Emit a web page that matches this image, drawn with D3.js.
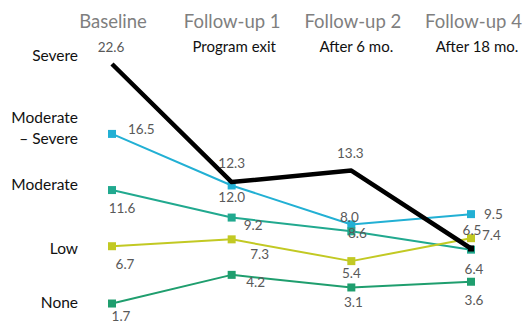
<!DOCTYPE html>
<html>
<head>
<meta charset="utf-8">
<script src="https://cdn.jsdelivr.net/npm/d3@7"></script>
<style>
  html, body { margin: 0; padding: 0; background: #fff; }
  svg { display: block; }
</style>
</head>
<body>
<svg id="chart" width="524" height="324"></svg>
<script>
// Survey waves (columns) and their subtitles
const waves = ["Baseline", "Follow-up 1", "Follow-up 2", "Follow-up 4"];
const waveNotes = ["", "Program exit", "After 6 mo.", "After 18 mo."];

// Severity levels shown down the left side
const levels = ["Severe", "Moderate\n– Severe", "Moderate", "Low", "None"];

// Percentage in each severity level at each wave
const severe         = [22.6, 12.3, 13.3, 6.5];
const moderateSevere = [16.5, 12.0, 8.6, 9.5];
const moderate       = [11.6, 9.2, 8.0, 6.4];
const low            = [6.7, 7.3, 5.4, 7.4];
const none           = [1.7, 4.2, 3.1, 3.6];

// Label placement per point: [dx, dy, anchor]
const series = [
  { name: "Moderate – Severe", values: moderateSevere, color: "#22b0d4", width: 2, marker: true,
    labelPos: [[16, 0, "start"], [0, 17, "middle"], [6, 14, "middle"], [13, 5, "start"]] },
  { name: "Moderate", values: moderate, color: "#21a98f", width: 2, marker: true,
    labelPos: [[10, 23, "middle"], [12, 12, "start"], [-2, -9, "middle"], [3, 24, "middle"]] },
  { name: "Low", values: low, color: "#c2c923", width: 2, marker: true,
    labelPos: [[13, 23, "middle"], [28, 20, "middle"], [0, 17, "middle"], [11, 2, "start"]] },
  { name: "None", values: none, color: "#1f9e6e", width: 2, marker: true,
    labelPos: [[9, 17.5, "middle"], [24, 12, "middle"], [2, 20, "middle"], [3, 23, "middle"]] },
  { name: "Severe", values: severe, color: "#000000", width: 4.5, marker: false,
    labelPos: [[-1, -12, "middle"], [0, -14, "middle"], [-1, -12.5, "middle"], [1, -13.5, "middle"]] }
];

const svg = d3.select("#chart");

const x = d3.scalePoint().domain(waves).range([112, 471]);
const y = d3.scaleLinear().domain([0, 25]).range([323, 36.5]);

const font = "Lato, 'Open Sans', sans-serif";

// Column headers (drawn as a top axis without line or ticks)
const topAxis = d3.axisTop(x).tickSize(0).tickPadding(0);
const gTop = svg.append("g").attr("transform", "translate(0,28)").call(topAxis);
gTop.select(".domain").remove();
gTop.selectAll("text")
  .attr("fill", "#7f7f7f")
  .attr("font-family", font)
  .attr("font-size", 18.5)
  .attr("dy", 0)
  .attr("dx", (d, i) => [0.5, 0, 1, 2][i]);

// Subtitles under each header
const noteDx = [0, 2.5, 5, 6];
svg.append("g").selectAll("text")
  .data(waves.map((w, i) => ({ w, note: waveNotes[i], i })).filter(d => d.note))
  .join("text")
  .attr("x", d => x(d.w) + noteDx[d.i])
  .attr("y", 52)
  .attr("text-anchor", "middle")
  .attr("font-family", font)
  .attr("font-size", 15)
  .attr("fill", "#111")
  .text(d => d.note);

// Severity labels on the left
const levelY = [61, 123, 190, 254, 308];
svg.append("g").selectAll("text")
  .data(levels)
  .join("text")
  .attr("x", 78)
  .attr("y", (d, i) => levelY[i])
  .attr("text-anchor", "end")
  .attr("font-family", font)
  .attr("font-size", 15.5)
  .attr("fill", "#111")
  .each(function (d) {
    const lines = d.split("\n");
    d3.select(this).selectAll("tspan")
      .data(lines)
      .join("tspan")
      .attr("x", 78)
      .attr("dy", (l, j) => j === 0 ? 0 : 21)
      .text(l => l);
  });

const line = d3.line()
  .x((v, i) => x(waves[i]))
  .y(v => y(v));

const g = svg.append("g");

series.forEach(s => {
  g.append("path")
    .attr("d", line(s.values))
    .attr("fill", "none")
    .attr("stroke", s.color)
    .attr("stroke-width", s.width)
    .attr("stroke-linejoin", "round");
  if (s.marker) {
    g.selectAll(null)
      .data(s.values)
      .join("rect")
      .attr("x", (v, i) => x(waves[i]) - 4)
      .attr("y", v => y(v) - 4)
      .attr("width", 8)
      .attr("height", 8)
      .attr("fill", s.color);
  }
});

// Small end marker on the severe line
g.append("rect")
  .attr("x", x(waves[3]) - 3)
  .attr("y", y(severe[3]) - 3)
  .attr("width", 6)
  .attr("height", 6)
  .attr("fill", "#000");

// Value labels
series.forEach(s => {
  g.selectAll(null)
    .data(s.values)
    .join("text")
    .attr("x", (v, i) => x(waves[i]) + s.labelPos[i][0])
    .attr("y", v => y(v))
    .attr("dy", (v, i) => s.labelPos[i][1])
    .attr("text-anchor", (v, i) => s.labelPos[i][2])
    .attr("font-family", font)
    .attr("font-size", 13.5)
    .attr("fill", "#595959")
    .text(v => v.toFixed(1));
});
</script>
</body>
</html>
